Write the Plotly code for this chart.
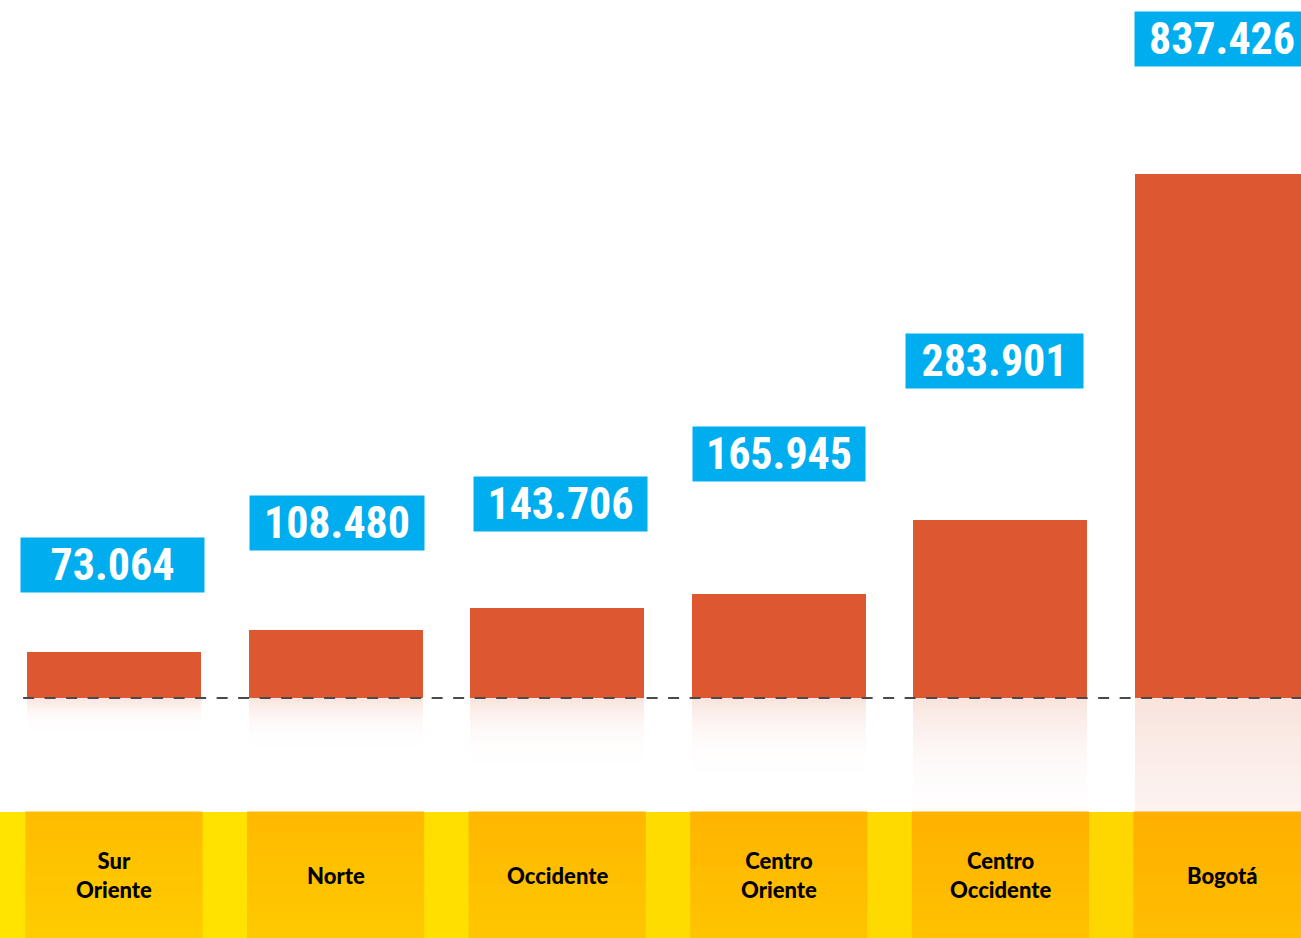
import plotly.graph_objects as go

# ---------------- data ----------------
categories = ["Sur<br>Oriente", "Norte", "Occidente", "Centro<br>Oriente", "Centro<br>Occidente", "Bogotá"]
values = [73064, 108480, 143706, 165945, 283901, 837426]
value_labels = ["73.064", "108.480", "143.706", "165.945", "283.901", "837.426"]

# ---------------- style ----------------
BAR_COLOR = "#DD5830"
BOX_COLOR = "#00AEEF"
W, H = 1301, 938
label_yshift = [87, 107, 104, 140, 159, 135]      # px above bar top (box centre)
label_xshift = [-1, 1, 3, 0, -6, 0]
box_w = [181, 172, 171, 170, 175, 172]
box_h = 52
band_frac = 126 / H                               # bottom band height (paper)

xs = list(range(len(categories)))
fig = go.Figure()

# main bars
fig.add_trace(go.Bar(x=xs, y=values, width=0.785, marker=dict(color=BAR_COLOR, line=dict(width=0)),
                     hoverinfo="skip"))

# reflections: stacked fading segments below the baseline
N = 40
a0 = 0.17
for k in range(N):
    t0, t1 = k / N, (k + 1) / N
    tm = (t0 + t1) / 2
    alpha = a0 * (1 - tm) ** 3.5
    fig.add_trace(go.Bar(
        x=xs,
        y=[-v * (t1 - t0) * 1.002 for v in values],
        base=[-v * t0 for v in values],
        width=0.785,
        marker=dict(color=f"rgba(221,88,48,{alpha:.4f})", line=dict(width=0)),
        hoverinfo="skip"))

shapes = []
# bottom band: yellow background with left->right gradient
NS = 40
for s in range(NS):
    f = (s + 0.5) / NS
    g = int(0xE5 - 0x10 * f)
    shapes.append(dict(type="rect", xref="paper", yref="paper", x0=s / NS, x1=(s + 1) / NS + 0.001,
                       y0=0, y1=band_frac, fillcolor=f"rgb(255,{g},0)", line=dict(width=0), layer="above"))
# orange category boxes with gradient
NY = 14
for i in xs:
    xf = (i + 0.5) / len(xs)
    for s in range(NY):
        yf = (s + 0.5) / NY
        g = int(0xCE - 0x20 * (0.5 * xf + 0.5 * yf))
        shapes.append(dict(type="rect", xref="x", yref="paper", x0=i - 0.4, x1=i + 0.4,
                           y0=band_frac * s / NY, y1=band_frac * (s + 1) / NY + 0.0005,
                           fillcolor=f"rgb(255,{g},0)", line=dict(width=0), layer="above"))
# dashed baseline
shapes.append(dict(type="line", xref="x", yref="y", x0=-0.41, x1=5.6, y0=0, y1=0,
                   line=dict(color="#4A4A4A", width=2, dash="11px,10.5px"), layer="above"))

annotations = []
for i, (v, lab) in enumerate(zip(values, value_labels)):
    annotations.append(dict(
        x=i, y=v, xref="x", yref="y", text=f"<b>{lab}</b>", showarrow=False,
        xanchor="center", yanchor="middle", yshift=label_yshift[i], xshift=label_xshift[i],
        width=box_w[i], height=box_h, bgcolor=BOX_COLOR, borderpad=1, align="center", valign="middle",
        font=dict(family="Liberation Sans Narrow, Roboto Condensed, DejaVu Sans Condensed, sans-serif",
                  size=44, color="white")))
for i, c in enumerate(categories):
    annotations.append(dict(
        x=i, y=band_frac / 2, xref="x", yref="paper", text=c, showarrow=False,
        xanchor="center", yanchor="middle", align="center",
        font=dict(family="Lato, Noto Sans, sans-serif", size=22, color="black", weight=900)))

y_lo, y_hi = -383400, 1115000
fig.update_layout(
    width=W, height=H, margin=dict(l=0, r=0, t=0, b=0),
    paper_bgcolor="white", plot_bgcolor="white",
    barmode="overlay", bargap=0, showlegend=False,
    xaxis=dict(range=[-0.5144, 5.3565], visible=False, fixedrange=True),
    yaxis=dict(range=[y_lo, y_hi], visible=False, fixedrange=True),
    shapes=shapes, annotations=annotations,
)

fig.write_html("out.html", config={"displayModeBar": False, "staticPlot": True},
               post_script="document.body.style.margin='0';document.body.style.overflow='hidden';")
